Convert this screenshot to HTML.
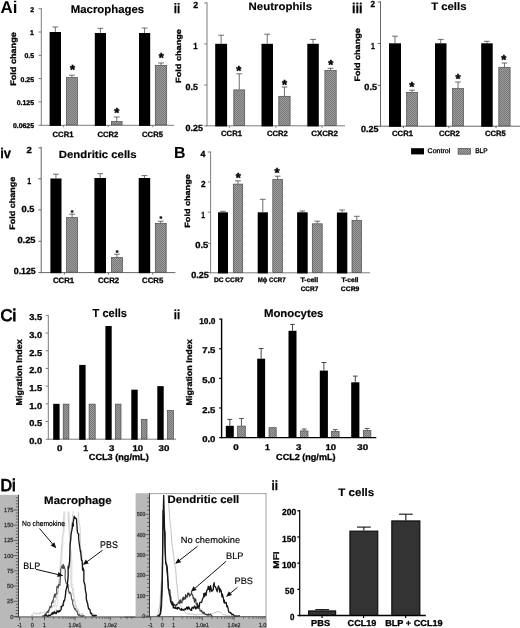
<!DOCTYPE html>
<html lang="en"><head><meta charset="utf-8"><title>Figure</title>
<style>html,body{margin:0;padding:0;background:#fff}svg{display:block;filter:blur(0.4px)}text{font-family:'Liberation Sans', Arial, Helvetica, sans-serif;text-rendering:geometricPrecision}</style></head><body>
<svg width="520" height="628" viewBox="0 0 520 628">
<defs><pattern id="hatch" width="2" height="2" patternUnits="userSpaceOnUse"><rect width="2" height="2" fill="#9c9c9c"/><rect width="1" height="1" fill="#787878"/><rect x="1" y="1" width="1" height="1" fill="#787878"/></pattern></defs>
<rect width="520" height="628" fill="#fff"/>
<text font-size="17.08" font-weight="bold" x="0.6" textLength="16.9" lengthAdjust="spacingAndGlyphs" y="12.5">Ai</text>
<line x1="41.3" y1="8.2" x2="41.3" y2="125.8" stroke="#7d7d7d" stroke-width="1"/>
<line x1="40.8" y1="125.3" x2="174" y2="125.3" stroke="#7d7d7d" stroke-width="1"/>
<rect x="49.6" y="32" width="11.4" height="93.9" fill="#000"/>
<line x1="55.3" y1="32" x2="55.3" y2="27" stroke="#4a4a4a" stroke-width="0.8"/>
<line x1="52.4" y1="27" x2="58.2" y2="27" stroke="#4a4a4a" stroke-width="0.8"/>
<rect x="66.4" y="77.6" width="11" height="47.3" fill="url(#hatch)" stroke="#4c4c4c" stroke-width="0.7"/>
<line x1="71.9" y1="77.3" x2="71.9" y2="75.2" stroke="#4a4a4a" stroke-width="0.8"/>
<line x1="69" y1="75.2" x2="74.8" y2="75.2" stroke="#4a4a4a" stroke-width="0.8"/>
<text x="72.5" y="74.4" font-size="13" font-weight="bold" text-anchor="middle" stroke="#000" stroke-width="0.46">*</text>
<rect x="94.8" y="33" width="11.2" height="92.9" fill="#000"/>
<line x1="100.4" y1="33" x2="100.4" y2="28.3" stroke="#4a4a4a" stroke-width="0.8"/>
<line x1="97.5" y1="28.3" x2="103.3" y2="28.3" stroke="#4a4a4a" stroke-width="0.8"/>
<rect x="111.4" y="121.6" width="10.7" height="3.3" fill="url(#hatch)" stroke="#4c4c4c" stroke-width="0.7"/>
<line x1="116.75" y1="121.3" x2="116.75" y2="117" stroke="#4a4a4a" stroke-width="0.8"/>
<line x1="113.85" y1="117" x2="119.65" y2="117" stroke="#4a4a4a" stroke-width="0.8"/>
<text x="116.7" y="117.19" font-size="13" font-weight="bold" text-anchor="middle" stroke="#000" stroke-width="0.46">*</text>
<rect x="139" y="33" width="11.2" height="92.9" fill="#000"/>
<line x1="144.6" y1="33" x2="144.6" y2="28" stroke="#4a4a4a" stroke-width="0.8"/>
<line x1="141.7" y1="28" x2="147.5" y2="28" stroke="#4a4a4a" stroke-width="0.8"/>
<rect x="155.3" y="65.3" width="11.4" height="59.6" fill="url(#hatch)" stroke="#4c4c4c" stroke-width="0.7"/>
<line x1="161" y1="65" x2="161" y2="63" stroke="#4a4a4a" stroke-width="0.8"/>
<line x1="158.1" y1="63" x2="163.9" y2="63" stroke="#4a4a4a" stroke-width="0.8"/>
<text x="161.3" y="61.99" font-size="13" font-weight="bold" text-anchor="middle" stroke="#000" stroke-width="0.46">*</text>
<line x1="38.5" y1="8.7" x2="41.3" y2="8.7" stroke="#7d7d7d" stroke-width="1"/>
<text font-size="6.9" font-weight="bold" x="34" text-anchor="end" y="11.7" stroke="#000" stroke-width="0.3">2</text>
<line x1="38.5" y1="32" x2="41.3" y2="32" stroke="#7d7d7d" stroke-width="1"/>
<text font-size="6.9" font-weight="bold" x="33.8" text-anchor="end" y="35.1" stroke="#000" stroke-width="0.3">1</text>
<line x1="38.5" y1="55.3" x2="41.3" y2="55.3" stroke="#7d7d7d" stroke-width="1"/>
<text font-size="6.9" font-weight="bold" x="34" text-anchor="end" y="58.3" stroke="#000" stroke-width="0.3">0.5</text>
<line x1="38.5" y1="78.6" x2="41.3" y2="78.6" stroke="#7d7d7d" stroke-width="1"/>
<text font-size="6.9" font-weight="bold" x="34" text-anchor="end" y="81.6" stroke="#000" stroke-width="0.3">0.25</text>
<line x1="38.5" y1="101.9" x2="41.3" y2="101.9" stroke="#7d7d7d" stroke-width="1"/>
<text font-size="6.9" font-weight="bold" x="34" text-anchor="end" y="104.8" stroke="#000" stroke-width="0.3">0.125</text>
<line x1="38.5" y1="125.2" x2="41.3" y2="125.2" stroke="#7d7d7d" stroke-width="1"/>
<text font-size="6.9" font-weight="bold" x="34" text-anchor="end" y="127.9" stroke="#000" stroke-width="0.3">0.0625</text>
<line x1="63.4" y1="125.3" x2="63.4" y2="127.2" stroke="#7d7d7d" stroke-width="1"/>
<line x1="108.3" y1="125.3" x2="108.3" y2="127.2" stroke="#7d7d7d" stroke-width="1"/>
<line x1="152.7" y1="125.3" x2="152.7" y2="127.2" stroke="#7d7d7d" stroke-width="1"/>
<text font-size="7.63" font-weight="bold" x="52.6" textLength="20.8" lengthAdjust="spacingAndGlyphs" y="136.6" stroke="#000" stroke-width="0.3">CCR1</text>
<text font-size="7.63" font-weight="bold" x="97.4" textLength="20.8" lengthAdjust="spacingAndGlyphs" y="136.6" stroke="#000" stroke-width="0.3">CCR2</text>
<text font-size="7.63" font-weight="bold" x="142.1" textLength="20.8" lengthAdjust="spacingAndGlyphs" y="136.6" stroke="#000" stroke-width="0.3">CCR5</text>
<text transform="translate(12.8 59) rotate(-90)" x="0" y="2.75" font-size="8.07" text-anchor="middle" textLength="53.5" lengthAdjust="spacingAndGlyphs" font-weight="bold" stroke="#000" stroke-width="0.3">Fold change</text>
<text font-size="11.26" font-weight="bold" x="70.8" textLength="73.4" lengthAdjust="spacingAndGlyphs" y="13" stroke="#000" stroke-width="0.15">Macrophages</text>
<text font-size="13.72" font-weight="bold" x="173.8" textLength="6.4" lengthAdjust="spacingAndGlyphs" y="12.7" stroke="#000" stroke-width="0.25">ii</text>
<line x1="207" y1="2.4" x2="207" y2="126.3" stroke="#7d7d7d" stroke-width="1"/>
<line x1="206.5" y1="125.8" x2="345" y2="125.8" stroke="#7d7d7d" stroke-width="1"/>
<rect x="215.2" y="43.8" width="11.9" height="82.6" fill="#000"/>
<line x1="221.15" y1="43.8" x2="221.15" y2="35.2" stroke="#4a4a4a" stroke-width="0.8"/>
<line x1="218.25" y1="35.2" x2="224.05" y2="35.2" stroke="#4a4a4a" stroke-width="0.8"/>
<rect x="233.8" y="89.9" width="10.9" height="35.5" fill="url(#hatch)" stroke="#4c4c4c" stroke-width="0.7"/>
<line x1="239.25" y1="89.6" x2="239.25" y2="73.8" stroke="#4a4a4a" stroke-width="0.8"/>
<line x1="236.35" y1="73.8" x2="242.15" y2="73.8" stroke="#4a4a4a" stroke-width="0.8"/>
<text x="238.8" y="75" font-size="13" font-weight="bold" text-anchor="middle" stroke="#000" stroke-width="0.46">*</text>
<rect x="261.5" y="43.8" width="11.5" height="82.6" fill="#000"/>
<line x1="267.25" y1="43.8" x2="267.25" y2="34.2" stroke="#4a4a4a" stroke-width="0.8"/>
<line x1="264.35" y1="34.2" x2="270.15" y2="34.2" stroke="#4a4a4a" stroke-width="0.8"/>
<rect x="278.8" y="96.3" width="11.3" height="29.1" fill="url(#hatch)" stroke="#4c4c4c" stroke-width="0.7"/>
<line x1="284.45" y1="96" x2="284.45" y2="87" stroke="#4a4a4a" stroke-width="0.8"/>
<line x1="281.55" y1="87" x2="287.35" y2="87" stroke="#4a4a4a" stroke-width="0.8"/>
<text x="284.6" y="89.19" font-size="13" font-weight="bold" text-anchor="middle" stroke="#000" stroke-width="0.46">*</text>
<rect x="307.3" y="43.8" width="11.5" height="82.6" fill="#000"/>
<line x1="313.05" y1="43.8" x2="313.05" y2="39.4" stroke="#4a4a4a" stroke-width="0.8"/>
<line x1="310.15" y1="39.4" x2="315.95" y2="39.4" stroke="#4a4a4a" stroke-width="0.8"/>
<rect x="324.9" y="70.5" width="11.3" height="54.9" fill="url(#hatch)" stroke="#4c4c4c" stroke-width="0.7"/>
<line x1="330.55" y1="70.2" x2="330.55" y2="68.3" stroke="#4a4a4a" stroke-width="0.8"/>
<line x1="327.65" y1="68.3" x2="333.45" y2="68.3" stroke="#4a4a4a" stroke-width="0.8"/>
<text x="330.8" y="69.19" font-size="13" font-weight="bold" text-anchor="middle" stroke="#000" stroke-width="0.46">*</text>
<line x1="204.2" y1="2.9" x2="207" y2="2.9" stroke="#7d7d7d" stroke-width="1"/>
<text font-size="8.89" font-weight="bold" x="193.2" textLength="4.9" lengthAdjust="spacingAndGlyphs" y="8.25" stroke="#000" stroke-width="0.3">2</text>
<line x1="204.2" y1="43.9" x2="207" y2="43.9" stroke="#7d7d7d" stroke-width="1"/>
<text font-size="8.89" font-weight="bold" x="193.2" textLength="4.3" lengthAdjust="spacingAndGlyphs" y="49.2" stroke="#000" stroke-width="0.3">1</text>
<line x1="204.2" y1="85" x2="207" y2="85" stroke="#7d7d7d" stroke-width="1"/>
<text font-size="8.89" font-weight="bold" x="185.5" textLength="12.4" lengthAdjust="spacingAndGlyphs" y="89.8" stroke="#000" stroke-width="0.3">0.5</text>
<line x1="204.2" y1="125.8" x2="207" y2="125.8" stroke="#7d7d7d" stroke-width="1"/>
<text font-size="8.89" font-weight="bold" x="185.5" textLength="17.4" lengthAdjust="spacingAndGlyphs" y="130.7" stroke="#000" stroke-width="0.3">0.25</text>
<line x1="229.6" y1="125.8" x2="229.6" y2="127.7" stroke="#7d7d7d" stroke-width="1"/>
<line x1="276" y1="125.8" x2="276" y2="127.7" stroke="#7d7d7d" stroke-width="1"/>
<line x1="322" y1="125.8" x2="322" y2="127.7" stroke="#7d7d7d" stroke-width="1"/>
<text font-size="7.63" font-weight="bold" x="221.1" textLength="20.8" lengthAdjust="spacingAndGlyphs" y="136.3" stroke="#000" stroke-width="0.3">CCR1</text>
<text font-size="7.63" font-weight="bold" x="266.9" textLength="20.8" lengthAdjust="spacingAndGlyphs" y="136.3" stroke="#000" stroke-width="0.3">CCR2</text>
<text font-size="7.63" font-weight="bold" x="311.2" textLength="26.8" lengthAdjust="spacingAndGlyphs" y="136.3" stroke="#000" stroke-width="0.3">CXCR2</text>
<text transform="translate(178.4 56) rotate(-90)" x="0" y="2.55" font-size="7.52" text-anchor="middle" textLength="53.8" lengthAdjust="spacingAndGlyphs" font-weight="bold" stroke="#000" stroke-width="0.3">Fold change</text>
<text font-size="10.83" font-weight="bold" x="248.6" textLength="63.5" lengthAdjust="spacingAndGlyphs" y="10" stroke="#000" stroke-width="0.15">Neutrophils</text>
<text font-size="14" font-weight="bold" x="352" textLength="10.6" lengthAdjust="spacingAndGlyphs" y="12.8" stroke="#000" stroke-width="0.25">iii</text>
<line x1="380.5" y1="1.3" x2="380.5" y2="126.7" stroke="#666" stroke-width="1"/>
<line x1="380" y1="126.2" x2="520" y2="126.2" stroke="#666" stroke-width="1"/>
<rect x="389" y="43.3" width="12" height="83.5" fill="#000"/>
<line x1="395" y1="43.3" x2="395" y2="36.2" stroke="#4a4a4a" stroke-width="0.8"/>
<line x1="392.1" y1="36.2" x2="397.9" y2="36.2" stroke="#4a4a4a" stroke-width="0.8"/>
<rect x="406.6" y="92.4" width="11" height="33.4" fill="url(#hatch)" stroke="#4c4c4c" stroke-width="0.7"/>
<line x1="412.1" y1="92.1" x2="412.1" y2="90.2" stroke="#4a4a4a" stroke-width="0.8"/>
<line x1="409.2" y1="90.2" x2="415" y2="90.2" stroke="#4a4a4a" stroke-width="0.8"/>
<text x="411.7" y="90.5" font-size="13" font-weight="bold" text-anchor="middle" stroke="#000" stroke-width="0.46">*</text>
<rect x="435" y="43.3" width="11.5" height="83.5" fill="#000"/>
<line x1="440.75" y1="43.3" x2="440.75" y2="39.4" stroke="#4a4a4a" stroke-width="0.8"/>
<line x1="437.85" y1="39.4" x2="443.65" y2="39.4" stroke="#4a4a4a" stroke-width="0.8"/>
<rect x="452.6" y="88.6" width="10.9" height="37.2" fill="url(#hatch)" stroke="#4c4c4c" stroke-width="0.7"/>
<line x1="458.05" y1="88.3" x2="458.05" y2="82" stroke="#4a4a4a" stroke-width="0.8"/>
<line x1="455.15" y1="82" x2="460.95" y2="82" stroke="#4a4a4a" stroke-width="0.8"/>
<text x="458" y="83.4" font-size="13" font-weight="bold" text-anchor="middle" stroke="#000" stroke-width="0.46">*</text>
<rect x="481.2" y="43.3" width="11.5" height="83.5" fill="#000"/>
<line x1="486.95" y1="43.3" x2="486.95" y2="41.3" stroke="#4a4a4a" stroke-width="0.8"/>
<line x1="484.05" y1="41.3" x2="489.85" y2="41.3" stroke="#4a4a4a" stroke-width="0.8"/>
<rect x="498.8" y="67.3" width="11.3" height="58.5" fill="url(#hatch)" stroke="#4c4c4c" stroke-width="0.7"/>
<line x1="504.45" y1="67" x2="504.45" y2="63" stroke="#4a4a4a" stroke-width="0.8"/>
<line x1="501.55" y1="63" x2="507.35" y2="63" stroke="#4a4a4a" stroke-width="0.8"/>
<text x="503.7" y="64.4" font-size="13" font-weight="bold" text-anchor="middle" stroke="#000" stroke-width="0.46">*</text>
<line x1="377.7" y1="2" x2="380.5" y2="2" stroke="#666" stroke-width="1"/>
<text font-size="8.89" font-weight="bold" x="370.5" textLength="4.6" lengthAdjust="spacingAndGlyphs" y="7.4" stroke="#000" stroke-width="0.3">2</text>
<line x1="377.7" y1="43.5" x2="380.5" y2="43.5" stroke="#666" stroke-width="1"/>
<text font-size="8.89" font-weight="bold" x="371.1" textLength="3.8" lengthAdjust="spacingAndGlyphs" y="49.1" stroke="#000" stroke-width="0.3">1</text>
<line x1="377.7" y1="85.4" x2="380.5" y2="85.4" stroke="#666" stroke-width="1"/>
<text font-size="8.89" font-weight="bold" x="364.3" textLength="12.7" lengthAdjust="spacingAndGlyphs" y="90.3" stroke="#000" stroke-width="0.3">0.5</text>
<line x1="377.7" y1="126.2" x2="380.5" y2="126.2" stroke="#666" stroke-width="1"/>
<text font-size="8.89" font-weight="bold" x="361.1" textLength="17.4" lengthAdjust="spacingAndGlyphs" y="132" stroke="#000" stroke-width="0.3">0.25</text>
<line x1="403.5" y1="126.2" x2="403.5" y2="128.1" stroke="#666" stroke-width="1"/>
<line x1="448.8" y1="126.2" x2="448.8" y2="128.1" stroke="#666" stroke-width="1"/>
<line x1="496" y1="126.2" x2="496" y2="128.1" stroke="#666" stroke-width="1"/>
<text font-size="7.63" font-weight="bold" x="392.1" textLength="20.8" lengthAdjust="spacingAndGlyphs" y="136.3" stroke="#000" stroke-width="0.3">CCR1</text>
<text font-size="7.63" font-weight="bold" x="439" textLength="20.8" lengthAdjust="spacingAndGlyphs" y="136.3" stroke="#000" stroke-width="0.3">CCR2</text>
<text font-size="7.63" font-weight="bold" x="485" textLength="20.8" lengthAdjust="spacingAndGlyphs" y="136.3" stroke="#000" stroke-width="0.3">CCR5</text>
<text transform="translate(357.4 54.9) rotate(-90)" x="0" y="2.65" font-size="7.79" text-anchor="middle" textLength="53.2" lengthAdjust="spacingAndGlyphs" font-weight="bold" stroke="#000" stroke-width="0.3">Fold change</text>
<text font-size="10.83" font-weight="bold" x="431.2" textLength="35.3" lengthAdjust="spacingAndGlyphs" y="10" stroke="#000" stroke-width="0.15">T cells</text>
<rect x="411.1" y="148.2" width="12.9" height="6.2" fill="#000"/>
<text font-size="6.76" x="427.6" textLength="22.6" lengthAdjust="spacingAndGlyphs" y="153.2" stroke="#000" stroke-width="0.3">Control</text>
<rect x="458.1" y="148.5" width="12.4" height="5.7" fill="url(#hatch)" stroke="#4c4c4c" stroke-width="0.7"/>
<text font-size="6.76" x="475.2" textLength="12.4" lengthAdjust="spacingAndGlyphs" y="153.2" stroke="#000" stroke-width="0.3">BLP</text>
<text font-size="14" font-weight="bold" x="0.2" textLength="10.8" lengthAdjust="spacingAndGlyphs" y="157.6" stroke="#000" stroke-width="0.25">iv</text>
<line x1="41.2" y1="146.8" x2="41.2" y2="273.1" stroke="#686868" stroke-width="1"/>
<line x1="40.7" y1="272.6" x2="175.4" y2="272.6" stroke="#686868" stroke-width="1"/>
<rect x="50.4" y="178.5" width="11.1" height="94.7" fill="#000"/>
<line x1="55.95" y1="178.5" x2="55.95" y2="174.2" stroke="#4a4a4a" stroke-width="0.8"/>
<line x1="53.05" y1="174.2" x2="58.85" y2="174.2" stroke="#4a4a4a" stroke-width="0.8"/>
<rect x="66.6" y="217.6" width="11" height="54.6" fill="url(#hatch)" stroke="#4c4c4c" stroke-width="0.7"/>
<line x1="72.1" y1="217.3" x2="72.1" y2="214.2" stroke="#4a4a4a" stroke-width="0.8"/>
<line x1="69.2" y1="214.2" x2="75" y2="214.2" stroke="#4a4a4a" stroke-width="0.8"/>
<text x="72" y="214.7" font-size="7" font-weight="bold" text-anchor="middle" stroke="#000" stroke-width="0.25">*</text>
<rect x="94.4" y="178" width="11.6" height="95.2" fill="#000"/>
<line x1="100.2" y1="178" x2="100.2" y2="173.7" stroke="#4a4a4a" stroke-width="0.8"/>
<line x1="97.3" y1="173.7" x2="103.1" y2="173.7" stroke="#4a4a4a" stroke-width="0.8"/>
<rect x="111.5" y="257.4" width="10.9" height="14.8" fill="url(#hatch)" stroke="#4c4c4c" stroke-width="0.7"/>
<line x1="116.95" y1="257.1" x2="116.95" y2="254.2" stroke="#4a4a4a" stroke-width="0.8"/>
<line x1="114.05" y1="254.2" x2="119.85" y2="254.2" stroke="#4a4a4a" stroke-width="0.8"/>
<text x="117" y="254.6" font-size="7" font-weight="bold" text-anchor="middle" stroke="#000" stroke-width="0.25">*</text>
<rect x="138.7" y="178" width="11.5" height="95.2" fill="#000"/>
<line x1="144.45" y1="178" x2="144.45" y2="175.6" stroke="#4a4a4a" stroke-width="0.8"/>
<line x1="141.55" y1="175.6" x2="147.35" y2="175.6" stroke="#4a4a4a" stroke-width="0.8"/>
<rect x="155.3" y="223.3" width="10.9" height="48.9" fill="url(#hatch)" stroke="#4c4c4c" stroke-width="0.7"/>
<line x1="160.75" y1="223" x2="160.75" y2="221.2" stroke="#4a4a4a" stroke-width="0.8"/>
<line x1="157.85" y1="221.2" x2="163.65" y2="221.2" stroke="#4a4a4a" stroke-width="0.8"/>
<text x="160.8" y="221" font-size="7" font-weight="bold" text-anchor="middle" stroke="#000" stroke-width="0.25">*</text>
<line x1="38.4" y1="147.8" x2="41.2" y2="147.8" stroke="#686868" stroke-width="1"/>
<text font-size="8.89" font-weight="bold" x="26.6" textLength="5.3" lengthAdjust="spacingAndGlyphs" y="152.8" stroke="#000" stroke-width="0.3">2</text>
<line x1="38.4" y1="178.8" x2="41.2" y2="178.8" stroke="#686868" stroke-width="1"/>
<text font-size="8.89" font-weight="bold" x="27.3" textLength="3.9" lengthAdjust="spacingAndGlyphs" y="183.9" stroke="#000" stroke-width="0.3">1</text>
<line x1="38.4" y1="209.9" x2="41.2" y2="209.9" stroke="#686868" stroke-width="1"/>
<text font-size="8.89" font-weight="bold" x="21.6" textLength="12.9" lengthAdjust="spacingAndGlyphs" y="211.5" stroke="#000" stroke-width="0.3">0.5</text>
<line x1="38.4" y1="241.3" x2="41.2" y2="241.3" stroke="#686868" stroke-width="1"/>
<text font-size="8.89" font-weight="bold" x="17.4" textLength="18.1" lengthAdjust="spacingAndGlyphs" y="243.2" stroke="#000" stroke-width="0.3">0.25</text>
<line x1="38.4" y1="272.6" x2="41.2" y2="272.6" stroke="#686868" stroke-width="1"/>
<text font-size="8.89" font-weight="bold" x="13.8" textLength="21.9" lengthAdjust="spacingAndGlyphs" y="274.3" stroke="#000" stroke-width="0.3">0.125</text>
<line x1="64.4" y1="272.6" x2="64.4" y2="274.5" stroke="#686868" stroke-width="1"/>
<line x1="108.5" y1="272.6" x2="108.5" y2="274.5" stroke="#686868" stroke-width="1"/>
<line x1="152.7" y1="272.6" x2="152.7" y2="274.5" stroke="#686868" stroke-width="1"/>
<text font-size="7.78" font-weight="bold" x="52.9" textLength="21.2" lengthAdjust="spacingAndGlyphs" y="283.2" stroke="#000" stroke-width="0.3">CCR1</text>
<text font-size="7.78" font-weight="bold" x="97.9" textLength="21.2" lengthAdjust="spacingAndGlyphs" y="283.2" stroke="#000" stroke-width="0.3">CCR2</text>
<text font-size="7.78" font-weight="bold" x="142.1" textLength="21.2" lengthAdjust="spacingAndGlyphs" y="283.2" stroke="#000" stroke-width="0.3">CCR5</text>
<text transform="translate(12.55 203.2) rotate(-90)" x="0" y="2.7" font-size="7.93" text-anchor="middle" textLength="53" lengthAdjust="spacingAndGlyphs" font-weight="bold" stroke="#000" stroke-width="0.3">Fold change</text>
<text font-size="10.54" font-weight="bold" x="58.8" textLength="77.8" lengthAdjust="spacingAndGlyphs" y="158.2" stroke="#000" stroke-width="0.15">Dendritic cells</text>
<text font-size="15.92" font-weight="bold" x="174" textLength="11.5" lengthAdjust="spacingAndGlyphs" y="158.4">B</text>
<line x1="210.6" y1="151.5" x2="210.6" y2="273.3" stroke="#7d7d7d" stroke-width="1"/>
<line x1="210.1" y1="272.8" x2="370" y2="272.8" stroke="#7d7d7d" stroke-width="1"/>
<rect x="218" y="212.3" width="10" height="61.1" fill="#000"/>
<line x1="223" y1="212.3" x2="223" y2="211.3" stroke="#4a4a4a" stroke-width="0.8"/>
<line x1="220.1" y1="211.3" x2="225.9" y2="211.3" stroke="#4a4a4a" stroke-width="0.8"/>
<rect x="233.3" y="184.1" width="9.4" height="88.3" fill="url(#hatch)" stroke="#4c4c4c" stroke-width="0.7"/>
<line x1="238" y1="183.8" x2="238" y2="180.8" stroke="#4a4a4a" stroke-width="0.8"/>
<line x1="235.1" y1="180.8" x2="240.9" y2="180.8" stroke="#4a4a4a" stroke-width="0.8"/>
<text x="238.3" y="181.69" font-size="13" font-weight="bold" text-anchor="middle" stroke="#000" stroke-width="0.46">*</text>
<rect x="257.7" y="212.3" width="10.2" height="61.1" fill="#000"/>
<line x1="262.8" y1="212.3" x2="262.8" y2="199.3" stroke="#4a4a4a" stroke-width="0.8"/>
<line x1="259.9" y1="199.3" x2="265.7" y2="199.3" stroke="#4a4a4a" stroke-width="0.8"/>
<rect x="272.8" y="179.3" width="9.6" height="93.1" fill="url(#hatch)" stroke="#4c4c4c" stroke-width="0.7"/>
<line x1="277.6" y1="179" x2="277.6" y2="176.2" stroke="#4a4a4a" stroke-width="0.8"/>
<line x1="274.7" y1="176.2" x2="280.5" y2="176.2" stroke="#4a4a4a" stroke-width="0.8"/>
<text x="277" y="176.5" font-size="13" font-weight="bold" text-anchor="middle" stroke="#000" stroke-width="0.46">*</text>
<rect x="297.1" y="212.3" width="10.6" height="61.1" fill="#000"/>
<line x1="302.4" y1="212.3" x2="302.4" y2="211" stroke="#4a4a4a" stroke-width="0.8"/>
<line x1="299.5" y1="211" x2="305.3" y2="211" stroke="#4a4a4a" stroke-width="0.8"/>
<rect x="312.3" y="223.8" width="9.9" height="48.6" fill="url(#hatch)" stroke="#4c4c4c" stroke-width="0.7"/>
<line x1="317.25" y1="223.5" x2="317.25" y2="221.2" stroke="#4a4a4a" stroke-width="0.8"/>
<line x1="314.35" y1="221.2" x2="320.15" y2="221.2" stroke="#4a4a4a" stroke-width="0.8"/>
<rect x="336.9" y="212.5" width="10.4" height="60.9" fill="#000"/>
<line x1="342.1" y1="212.5" x2="342.1" y2="210" stroke="#4a4a4a" stroke-width="0.8"/>
<line x1="339.2" y1="210" x2="345" y2="210" stroke="#4a4a4a" stroke-width="0.8"/>
<rect x="352" y="220.5" width="9.6" height="51.9" fill="url(#hatch)" stroke="#4c4c4c" stroke-width="0.7"/>
<line x1="356.8" y1="220.2" x2="356.8" y2="216.3" stroke="#4a4a4a" stroke-width="0.8"/>
<line x1="353.9" y1="216.3" x2="359.7" y2="216.3" stroke="#4a4a4a" stroke-width="0.8"/>
<line x1="207.8" y1="152" x2="210.6" y2="152" stroke="#7d7d7d" stroke-width="1"/>
<text font-size="8.89" font-weight="bold" x="200.6" textLength="4.9" lengthAdjust="spacingAndGlyphs" y="157" stroke="#000" stroke-width="0.3">4</text>
<line x1="207.8" y1="182" x2="210.6" y2="182" stroke="#7d7d7d" stroke-width="1"/>
<text font-size="8.89" font-weight="bold" x="200.9" textLength="4.6" lengthAdjust="spacingAndGlyphs" y="187.3" stroke="#000" stroke-width="0.3">2</text>
<line x1="207.8" y1="212.2" x2="210.6" y2="212.2" stroke="#7d7d7d" stroke-width="1"/>
<text font-size="8.89" font-weight="bold" x="201.3" textLength="3.7" lengthAdjust="spacingAndGlyphs" y="217.8" stroke="#000" stroke-width="0.3">1</text>
<line x1="207.8" y1="243.4" x2="210.6" y2="243.4" stroke="#7d7d7d" stroke-width="1"/>
<text font-size="8.89" font-weight="bold" x="195.2" textLength="13.1" lengthAdjust="spacingAndGlyphs" y="248.1" stroke="#000" stroke-width="0.3">0.5</text>
<line x1="207.8" y1="272.6" x2="210.6" y2="272.6" stroke="#7d7d7d" stroke-width="1"/>
<text font-size="8.89" font-weight="bold" x="191.3" textLength="17.6" lengthAdjust="spacingAndGlyphs" y="278.2" stroke="#000" stroke-width="0.3">0.25</text>
<text transform="translate(187 201) rotate(-90)" x="0" y="2.55" font-size="7.52" text-anchor="middle" textLength="53.4" lengthAdjust="spacingAndGlyphs" font-weight="bold" stroke="#000" stroke-width="0.3">Fold change</text>
<text font-size="6.61" font-weight="bold" x="213.9" textLength="29.5" lengthAdjust="spacingAndGlyphs" y="281.8" stroke="#000" stroke-width="0.3">DC CCR7</text>
<text font-size="6.61" font-weight="bold" x="257.8" textLength="27.7" lengthAdjust="spacingAndGlyphs" y="281.8" stroke="#000" stroke-width="0.3">Mϕ CCR7</text>
<text font-size="6.61" font-weight="bold" x="300.5" textLength="17.7" lengthAdjust="spacingAndGlyphs" y="281.8" stroke="#000" stroke-width="0.3">T-cell</text>
<text font-size="6.61" font-weight="bold" x="300.7" textLength="17.6" lengthAdjust="spacingAndGlyphs" y="290.8" stroke="#000" stroke-width="0.3">CCR7</text>
<text font-size="6.61" font-weight="bold" x="341.4" textLength="17.1" lengthAdjust="spacingAndGlyphs" y="282" stroke="#000" stroke-width="0.3">T-cell</text>
<text font-size="6.61" font-weight="bold" x="340.8" textLength="18.6" lengthAdjust="spacingAndGlyphs" y="291" stroke="#000" stroke-width="0.3">CCR9</text>
<text font-size="16.93" x="0.5" textLength="15.8" lengthAdjust="spacingAndGlyphs" y="320.8" stroke="#000" stroke-width="0.85">Ci</text>
<line x1="48.3" y1="315" x2="48.3" y2="439.7" stroke="#7d7d7d" stroke-width="1"/>
<line x1="47.8" y1="439.2" x2="176" y2="439.2" stroke="#7d7d7d" stroke-width="1"/>
<rect x="53.2" y="403.83" width="6.4" height="35.97" fill="#000"/>
<rect x="63.2" y="404.13" width="5.7" height="34.87" fill="url(#hatch)" stroke="#4c4c4c" stroke-width="0.7"/>
<rect x="79.2" y="364.92" width="6.4" height="74.88" fill="#000"/>
<rect x="89.1" y="404.13" width="6.1" height="34.87" fill="url(#hatch)" stroke="#4c4c4c" stroke-width="0.7"/>
<rect x="105.4" y="326.02" width="6.3" height="113.78" fill="#000"/>
<rect x="115.3" y="404.13" width="5.7" height="34.87" fill="url(#hatch)" stroke="#4c4c4c" stroke-width="0.7"/>
<rect x="131.3" y="389.68" width="6.4" height="50.12" fill="#000"/>
<rect x="141.3" y="419.34" width="5.7" height="19.66" fill="url(#hatch)" stroke="#4c4c4c" stroke-width="0.7"/>
<rect x="157.3" y="386.14" width="6.4" height="53.66" fill="#000"/>
<rect x="167.3" y="410.5" width="6.1" height="28.5" fill="url(#hatch)" stroke="#4c4c4c" stroke-width="0.7"/>
<line x1="45.6" y1="439.2" x2="48.3" y2="439.2" stroke="#7d7d7d" stroke-width="1"/>
<text font-size="8.61" font-weight="bold" x="29.2" textLength="12.9" lengthAdjust="spacingAndGlyphs" y="443.95" stroke="#000" stroke-width="0.3">0.0</text>
<line x1="45.6" y1="421.51" x2="48.3" y2="421.51" stroke="#7d7d7d" stroke-width="1"/>
<text font-size="8.61" font-weight="bold" x="29.2" textLength="12.9" lengthAdjust="spacingAndGlyphs" y="426.26" stroke="#000" stroke-width="0.3">0.5</text>
<line x1="45.6" y1="403.83" x2="48.3" y2="403.83" stroke="#7d7d7d" stroke-width="1"/>
<text font-size="8.61" font-weight="bold" x="29.2" textLength="12.9" lengthAdjust="spacingAndGlyphs" y="408.58" stroke="#000" stroke-width="0.3">1.0</text>
<line x1="45.6" y1="386.14" x2="48.3" y2="386.14" stroke="#7d7d7d" stroke-width="1"/>
<text font-size="8.61" font-weight="bold" x="29.2" textLength="12.9" lengthAdjust="spacingAndGlyphs" y="390.89" stroke="#000" stroke-width="0.3">1.5</text>
<line x1="45.6" y1="368.46" x2="48.3" y2="368.46" stroke="#7d7d7d" stroke-width="1"/>
<text font-size="8.61" font-weight="bold" x="29.2" textLength="12.9" lengthAdjust="spacingAndGlyphs" y="373.21" stroke="#000" stroke-width="0.3">2.0</text>
<line x1="45.6" y1="350.77" x2="48.3" y2="350.77" stroke="#7d7d7d" stroke-width="1"/>
<text font-size="8.61" font-weight="bold" x="29.2" textLength="12.9" lengthAdjust="spacingAndGlyphs" y="355.52" stroke="#000" stroke-width="0.3">2.5</text>
<line x1="45.6" y1="333.09" x2="48.3" y2="333.09" stroke="#7d7d7d" stroke-width="1"/>
<text font-size="8.61" font-weight="bold" x="29.2" textLength="12.9" lengthAdjust="spacingAndGlyphs" y="337.84" stroke="#000" stroke-width="0.3">3.0</text>
<line x1="45.6" y1="315.4" x2="48.3" y2="315.4" stroke="#7d7d7d" stroke-width="1"/>
<text font-size="8.61" font-weight="bold" x="29.2" textLength="12.9" lengthAdjust="spacingAndGlyphs" y="320.15" stroke="#000" stroke-width="0.3">3.5</text>
<text font-size="8.32" font-weight="bold" x="56.9" textLength="5.4" lengthAdjust="spacingAndGlyphs" y="451.2" stroke="#000" stroke-width="0.3">0</text>
<text font-size="8.32" font-weight="bold" x="83.2" textLength="4.8" lengthAdjust="spacingAndGlyphs" y="451.2" stroke="#000" stroke-width="0.3">1</text>
<text font-size="8.32" font-weight="bold" x="109" textLength="5.4" lengthAdjust="spacingAndGlyphs" y="451.2" stroke="#000" stroke-width="0.3">3</text>
<text font-size="8.32" font-weight="bold" x="132.4" textLength="10.6" lengthAdjust="spacingAndGlyphs" y="451.2" stroke="#000" stroke-width="0.3">10</text>
<text font-size="8.32" font-weight="bold" x="158.6" textLength="10.8" lengthAdjust="spacingAndGlyphs" y="451.2" stroke="#000" stroke-width="0.3">30</text>
<text font-size="8.79" font-weight="bold" x="88.8" textLength="59.9" lengthAdjust="spacingAndGlyphs" y="459.9" stroke="#000" stroke-width="0.3">CCL3 (ng/mL)</text>
<text transform="translate(19.4 372.4) rotate(-90)" x="0" y="2.9" font-size="8.48" text-anchor="middle" textLength="66.3" lengthAdjust="spacingAndGlyphs" font-weight="bold" stroke="#000" stroke-width="0.3">Migration Index</text>
<text font-size="11.56" font-weight="bold" x="92.6" textLength="34.4" lengthAdjust="spacingAndGlyphs" y="317.2" stroke="#000" stroke-width="0.15">T cells</text>
<text font-size="13.03" font-weight="bold" x="173.8" textLength="6.3" lengthAdjust="spacingAndGlyphs" y="318.7" stroke="#000" stroke-width="0.25">ii</text>
<rect x="225.8" y="425.8" width="8" height="11.8" fill="#000"/>
<line x1="229.8" y1="425.8" x2="229.8" y2="419.4" stroke="#333" stroke-width="0.9"/>
<line x1="227.4" y1="419.4" x2="232.2" y2="419.4" stroke="#333" stroke-width="0.9"/>
<rect x="237.6" y="426.1" width="7.7" height="11.5" fill="url(#hatch)" stroke="#4c4c4c" stroke-width="0.7"/>
<line x1="241.45" y1="425.8" x2="241.45" y2="418.5" stroke="#444" stroke-width="0.9"/>
<line x1="239.05" y1="418.5" x2="243.85" y2="418.5" stroke="#444" stroke-width="0.9"/>
<rect x="257.2" y="358.7" width="7.9" height="78.9" fill="#000"/>
<line x1="261.15" y1="358.7" x2="261.15" y2="348.5" stroke="#333" stroke-width="0.9"/>
<line x1="258.75" y1="348.5" x2="263.55" y2="348.5" stroke="#333" stroke-width="0.9"/>
<rect x="269" y="427.7" width="7.2" height="9.9" fill="url(#hatch)" stroke="#4c4c4c" stroke-width="0.7"/>
<rect x="288.5" y="330.8" width="8" height="106.8" fill="#000"/>
<line x1="292.5" y1="330.8" x2="292.5" y2="324.4" stroke="#333" stroke-width="0.9"/>
<line x1="290.1" y1="324.4" x2="294.9" y2="324.4" stroke="#333" stroke-width="0.9"/>
<rect x="300.3" y="430.9" width="7.7" height="6.7" fill="url(#hatch)" stroke="#4c4c4c" stroke-width="0.7"/>
<line x1="304.15" y1="430.6" x2="304.15" y2="429" stroke="#444" stroke-width="0.9"/>
<line x1="301.75" y1="429" x2="306.55" y2="429" stroke="#444" stroke-width="0.9"/>
<rect x="319.8" y="370.6" width="8.1" height="67" fill="#000"/>
<line x1="323.85" y1="370.6" x2="323.85" y2="362.5" stroke="#333" stroke-width="0.9"/>
<line x1="321.45" y1="362.5" x2="326.25" y2="362.5" stroke="#333" stroke-width="0.9"/>
<rect x="331.5" y="431.6" width="7.6" height="6" fill="url(#hatch)" stroke="#4c4c4c" stroke-width="0.7"/>
<line x1="335.3" y1="431.3" x2="335.3" y2="429.6" stroke="#444" stroke-width="0.9"/>
<line x1="332.9" y1="429.6" x2="337.7" y2="429.6" stroke="#444" stroke-width="0.9"/>
<rect x="351.2" y="382.3" width="8.2" height="55.3" fill="#000"/>
<line x1="355.3" y1="382.3" x2="355.3" y2="376.1" stroke="#333" stroke-width="0.9"/>
<line x1="352.9" y1="376.1" x2="357.7" y2="376.1" stroke="#333" stroke-width="0.9"/>
<rect x="363.3" y="430.5" width="7.6" height="7.1" fill="url(#hatch)" stroke="#4c4c4c" stroke-width="0.7"/>
<line x1="367.1" y1="430.2" x2="367.1" y2="428.4" stroke="#444" stroke-width="0.9"/>
<line x1="364.7" y1="428.4" x2="369.5" y2="428.4" stroke="#444" stroke-width="0.9"/>
<line x1="221.6" y1="318.6" x2="221.6" y2="438.3" stroke="#000" stroke-width="1.4"/>
<line x1="221" y1="437.6" x2="376.3" y2="437.6" stroke="#000" stroke-width="1.4"/>
<line x1="219.2" y1="437.6" x2="221.6" y2="437.6" stroke="#000" stroke-width="1.2"/>
<text font-size="8.46" font-weight="bold" x="202.2" textLength="13.2" lengthAdjust="spacingAndGlyphs" y="442.25" stroke="#000" stroke-width="0.3">0.0</text>
<line x1="219.2" y1="407.98" x2="221.6" y2="407.98" stroke="#000" stroke-width="1.2"/>
<text font-size="8.46" font-weight="bold" x="202.2" textLength="13.2" lengthAdjust="spacingAndGlyphs" y="412.62" stroke="#000" stroke-width="0.3">2.5</text>
<line x1="219.2" y1="378.35" x2="221.6" y2="378.35" stroke="#000" stroke-width="1.2"/>
<text font-size="8.46" font-weight="bold" x="202.2" textLength="13.2" lengthAdjust="spacingAndGlyphs" y="383" stroke="#000" stroke-width="0.3">5.0</text>
<line x1="219.2" y1="348.73" x2="221.6" y2="348.73" stroke="#000" stroke-width="1.2"/>
<text font-size="8.46" font-weight="bold" x="202.2" textLength="13.2" lengthAdjust="spacingAndGlyphs" y="353.38" stroke="#000" stroke-width="0.3">7.5</text>
<line x1="219.2" y1="319.1" x2="221.6" y2="319.1" stroke="#000" stroke-width="1.2"/>
<text font-size="8.46" font-weight="bold" x="199.2" textLength="16.2" lengthAdjust="spacingAndGlyphs" y="323.75" stroke="#000" stroke-width="0.3">10.0</text>
<text font-size="8.32" font-weight="bold" x="233.3" textLength="5.4" lengthAdjust="spacingAndGlyphs" y="450.2" stroke="#000" stroke-width="0.3">0</text>
<text font-size="8.32" font-weight="bold" x="264.9" textLength="4.8" lengthAdjust="spacingAndGlyphs" y="450.2" stroke="#000" stroke-width="0.3">1</text>
<text font-size="8.32" font-weight="bold" x="296" textLength="5.4" lengthAdjust="spacingAndGlyphs" y="450.2" stroke="#000" stroke-width="0.3">3</text>
<text font-size="8.32" font-weight="bold" x="325.5" textLength="10.6" lengthAdjust="spacingAndGlyphs" y="450.2" stroke="#000" stroke-width="0.3">10</text>
<text font-size="8.32" font-weight="bold" x="357.3" textLength="10.8" lengthAdjust="spacingAndGlyphs" y="450.2" stroke="#000" stroke-width="0.3">30</text>
<text font-size="8.79" font-weight="bold" x="276.1" textLength="59.4" lengthAdjust="spacingAndGlyphs" y="460.4" stroke="#000" stroke-width="0.3">CCL2 (ng/mL)</text>
<text transform="translate(189 372.4) rotate(-90)" x="0" y="2.85" font-size="8.34" text-anchor="middle" textLength="66.3" lengthAdjust="spacingAndGlyphs" font-weight="bold" stroke="#000" stroke-width="0.3">Migration Index</text>
<text font-size="11.12" font-weight="bold" x="263.9" textLength="59.5" lengthAdjust="spacingAndGlyphs" y="317.2" stroke="#000" stroke-width="0.15">Monocytes</text>
<text font-size="17.08" x="0.4" textLength="15.1" lengthAdjust="spacingAndGlyphs" y="490.5" stroke="#000" stroke-width="0.9">Di</text>
<rect x="0" y="494.8" width="18.3" height="133.2" fill="#b9b9b9"/>
<rect x="0" y="617" width="266.4" height="11" fill="#b9b9b9"/>
<rect x="135.6" y="493.2" width="13.8" height="134.8" fill="#b9b9b9"/>
<line x1="149.4" y1="493.6" x2="266.2" y2="493.6" stroke="#8a8a8a" stroke-width="0.8"/>
<line x1="266" y1="493.2" x2="266" y2="628" stroke="#8a8a8a" stroke-width="0.8"/>
<clipPath id="cm"><rect x="19" y="511.5" width="116" height="106"/></clipPath>
<clipPath id="cd"><rect x="150" y="495" width="115.5" height="122.5"/></clipPath>
<polyline points="31.04,616.4 31.58,616.14 31.65,614.99 32.77,616.08 32.79,615.45 33.48,612.77 33.98,612.11 34.22,612.78 35.29,613.09 35.69,613.61 35.65,613.41 36.57,613.18 36.62,614.55 37.48,613.4 38.3,613.58 38.84,613.34 39.24,614.04 39.85,613.93 39.68,612.38 40.27,614.05 40.95,611.76 41.34,611.96 41.91,612.24 42.57,613.03 43.32,612.6 43.84,612.25 44.39,611.68 44.23,612.19 45.37,611.84 45.56,611.7 45.77,612.34 46.56,611.79 46.65,613.14 47.89,611.48 48.24,613.29 48.22,612.56 49.22,612.53 49.14,610.28 49.64,610.27 50.36,609.12 51.38,607.52 51.9,607.91 51.66,608.29 52.13,606.59 52.93,607.3 53.22,604.97 54.29,606.38 54.87,604.89 54.9,600.75 55.52,601.14 56.08,599.6 56.6,597.34 57.01,592.37 57.68,592.48 57.84,592.33 58.52,584.72 58.61,581.15 59.56,577.75 60.09,577.19 60.15,565.99 60.97,557.62 61.38,549.71 62.19,542.18 62.15,541.29 63.37,528.78 63.47,523.96 63.86,514.76 64.35,510.09 65.08,503.63 65.4,496.66 65.62,484.21 66.69,480.23 66.78,490.94 67.29,494.51 67.95,507.44 68.18,514.1 68.87,527.28 69.45,534.48 69.74,545.41 70.62,562.48 70.96,569.11 71.2,585.28 71.75,588.15 72.77,588.21 72.82,594.61 73.61,593.92 73.88,595.68 74.33,601.95 74.82,601.19 75.43,604.44 75.93,606.16 76.22,605.66 77.35,610.5 77.89,609.02 78.36,610.99 78.28,610.61 79.27,611.9 79.52,612.81 79.87,614.3 80.15,615.1 80.83,614.45 81.14,613.82 82.15,613.57 82.82,613.64 83.06,613.94 83.7,616.4 83.84,616.4" fill="none" stroke="#c6c6c6" stroke-width="0.9" stroke-linejoin="round" clip-path="url(#cm)"/>
<polyline points="51.6,616.29 52.15,615.37 52.9,615.08 53.8,612.34 53.72,611.08 54.28,610.59 54.61,610.89 55.93,610.24 56.31,607.23 56.19,605.62 57.13,606.32 57.85,600.9 57.59,595.26 58.67,592.15 58.68,589.09 59.09,585.63 60.37,577.41 60.3,575.6 61.07,567.17 61.85,559.25 61.91,555.75 62.43,548.63 62.81,546.05 63.04,533.24 64.13,532.44 64.53,524.61 64.84,515.13 65.2,501.58 65.7,497.71 66.28,488.24 67.25,482.44 67.56,484.99 67.6,487.07 68.23,502.22 69.12,505.6 69.33,521.39 69.96,534.99 70.7,548.75 71.45,552.62 71.96,564.29 71.79,583.85 72.78,583.9 73.44,589.69 73.82,591.93 73.69,596.86 74.14,599.4 75.46,602.54 75.01,604.78 75.67,607.36 76.36,606.05 76.6,608.52 77.42,607.86 77.56,611.12 78.17,613.32 78.65,612.37 79.49,614 80.5,614.25 80.53,614.9 80.91,613.95 81.48,613.58 81.91,615.31 82.42,616.4 83.39,616.4" fill="none" stroke="#d6d6d6" stroke-width="0.8" stroke-linejoin="round" clip-path="url(#cm)"/>
<polyline points="46.24,615.85 46.94,615.41 47.42,614.95 47.47,616.29 48.15,614.61 48.11,614.06 48.75,614.73 49.57,614.65 49.72,615.73 50.92,615.34 50.66,613.96 51.14,613.34 51.63,613.46 52.87,614.9 52.72,614.72 53.87,612.6 54.46,613.6 54.68,613.15 55.44,613.77 55.97,612.42 55.8,611.23 56.17,612.13 56.57,612.82 57.6,612.39 58.18,612.95 58.31,611.93 58.98,609.93 59.48,610.68 59.56,609.46 60.02,607.21 61.34,606.53 61.79,608.37 62.08,606.97 62.05,607.36 63.46,606.14 63.76,605.06 64.44,600.59 64.35,599.66 65.28,596.59 65.75,596.41 66.36,589.99 66.95,591.58 66.84,588.42 67.92,579.45 68.42,575.71 68.31,569.07 68.68,564.32 69.15,560.3 70.5,548.3 70.05,545.06 71.03,531.18 71.24,527.96 72.33,520.38 72.42,514.68 73.42,512.12 73.49,508.4 73.63,496.79 74.95,491.43 75.29,487.9 75.43,489.06 76.34,492.74 76.45,495.83 77.35,492.77 77.45,495 78.23,503.37 78.29,511.53 78.65,519.49 79.99,526.92 80.13,528.21 80.34,538.01 80.77,549.94 81.87,551.65 82.29,561.22 82.69,564.56 83.26,569.66 83.7,577.63 83.99,584.08 84.69,585.47 85.45,591.82 85.58,593.64 86.05,600.36 86.67,603.2 87.32,603.83 87.8,604.1 88.14,606.44 88.83,606.61 89.34,609.08 89.69,609.09 90.46,609.91 90.53,612.5 91.34,613.98 91.48,612.65 92.22,613.08 92.17,613.32 93.08,613.48 93.42,613.99 94.27,614.44 94.72,614.74 94.66,616.34 95.65,616.11 96.19,616.4" fill="none" stroke="#cccccc" stroke-width="0.9" stroke-linejoin="round" clip-path="url(#cm)"/>
<polyline points="42.29,615.82 42.29,615.8 43.15,616.4 43.73,615.71 44.24,615.43 44.77,615.44 44.92,614.13 45.66,614.04 46.05,614.74 46.29,613.16 47.17,612.48 47.35,611.24 48.27,612.52 48.45,610 48.73,611.04 49.31,608.79 50.08,606.16 50.64,607.52 51.39,606.51 51.51,602.82 52.18,602.07 52.93,600.15 52.88,602.98 53.32,599.7 53.63,597.8 54.52,594.38 55.15,597.43 55.23,596.21 55.67,593.71 56.83,594 56.56,589.3 57.07,586.11 58.36,587.88 58.33,584.92 58.9,584.48 59.95,585.39 59.93,585.11 60.41,576.17 60.77,569.37 61.85,565.91 62.35,566.85 62.8,568.51 63.02,564.2 63.69,565.48 63.63,568.26 64.29,566.26 65.26,570.96 65.07,578.23 66.08,583.03 66.28,583.15 67.38,583.87 67.42,587.49 68.1,584.31 68.48,589.85 68.68,590.95 69.33,593.28 69.84,592.13 70.92,593.91 70.89,593.86 71.34,597.03 71.99,600.24 72.89,600.01 72.56,603.58 73.1,604.75 74.25,607.95 74.7,609.35 75.39,609.66 75.11,608.46 76.4,611.14 76.43,611.13 77.28,611.3 77.47,612.9 77.88,614.74 78.61,615.32 78.68,614.56 79.14,614.56 80.13,616.07 80.86,615.93 81.18,615.49 81.8,616.4 82.11,616.4 82.87,615.6 82.96,615.4 83.76,615.67 84.4,616.4" fill="none" stroke="#4a4a4a" stroke-width="1.1" stroke-linejoin="round" clip-path="url(#cm)"/>
<polyline points="44.42,616.4 44.68,616.4 44.77,616.4 45.24,615.01 45.96,615.06 46.5,615.39 47.3,615.99 47.26,616.31 47.79,616.4 48.86,615.52 48.65,615.19 49.94,615.29 50.11,615.7 50.64,614.95 51.17,614.72 51.63,614.14 52.07,612.83 52.11,614.29 52.99,612.52 53.9,613.8 54.21,613 54.31,611.77 55.34,612.69 55.74,613.44 56.17,613.64 56.9,611.81 57,610.67 57.19,612.08 58.01,611.18 58.86,612.06 59.18,610.67 59.27,610.91 59.86,611.42 60.43,610.45 61.3,609.29 61.21,606.29 61.7,606.55 62.93,604.92 63.24,605.5 63.06,604.25 63.86,600.7 64.44,600.82 64.92,598.69 65.43,594.98 65.81,589.99 66.13,589.5 67.02,586.53 67.78,580.55 68.19,574.85 68.11,566.13 68.68,568.52 69.57,562.17 69.87,553.33 70.05,544.82 70.74,539.77 71.08,534.16 72.23,528.42 72.57,523.21 73.42,525.99 73.13,522.29 74,518.03 74.19,516.13 75.07,518.56 75.16,517.76 76.2,518.52 76.47,518.53 76.87,524.48 77.23,530.47 77.65,532.99 78.69,534.12 78.57,538.44 79.44,544.97 80.42,551.9 80.5,550.22 80.73,552.68 81.52,560.37 82.13,560.33 82.6,570.19 83.22,568.17 83.93,570.68 83.82,581.24 84.93,584.78 85.4,589.75 85.51,590.63 86.41,595.19 86.32,598.48 86.73,600.52 87.91,604.58 87.83,605.25 88.6,608.97 89.17,608.79 89.71,609.19 90.09,610.46 90.43,612.87 91.03,613.66 91.29,613.14 92.21,615.16 92.43,615.49 93.3,616.18 93.31,616.25 94,615.08 94.85,616 94.88,616.05 95.76,615.28 95.77,615.47 96.59,615.53 96.88,615.61" fill="none" stroke="#151515" stroke-width="1.3" stroke-linejoin="round" clip-path="url(#cm)"/>
<polyline points="155.52,616.2 155.99,615.79 156.53,615.79 157,615.45 157.62,614.06 157.92,613.49 158.62,612.61 158.82,609.81 159.69,607.04 160.05,601.88 160.31,597.45 160.82,589.35 161.4,579.82 161.99,566.51 162.64,544.61 163.06,512.63 163.56,490.04 163.91,490.13 164.7,488.71 165.08,488.71 165.39,490.1 165.83,490.59 166.46,489.47 166.95,488.92 167.64,488.46 167.88,493.37 168.49,501.52 168.96,506.71 169.55,514.8 169.91,519.46 170.43,526.29 171.1,529.76 171.4,536.8 171.82,542.71 172.37,546.38 172.98,551.02 173.59,555.3 174.06,559.03 174.47,562.47 174.91,565.53 175.62,568.71 176.15,575.63 176.46,581.92 177.06,585.67 177.7,591.03 177.9,595.21 178.43,598.33 178.83,602.36 179.53,603.91 180.04,604.89 180.48,605.76 180.99,605.96 181.65,607.34 181.86,609.02 182.63,609.37 182.88,610.5 183.68,610.48 184.18,611.41 184.54,611.15 184.84,611.89 185.69,612.83 186.08,613.15 186.63,613.5 186.92,613.51 187.59,613.93 187.89,614.21 188.64,613.81 188.91,613.68 189.38,613.37 189.91,614.29 190.32,614.15 190.95,614.45 191.35,614.16 192.16,614.35 192.56,613.79 193.03,613.98 193.31,614.67 194.16,615.05 194.69,614.5 195.05,615.09 195.59,614.76 196.2,614.82 196.52,615.09 197.16,614.47 197.58,614.27 198.17,614.15 198.57,614.57 199.15,614.11 199.62,614.47 200.03,614.11 200.45,614.24 201.04,614.32 201.56,614.86 202.15,614.06 202.46,614.09 203.03,614.08 203.64,614.39 204.1,614.85 204.54,615.03 204.89,614.61 205.5,614.22 206.17,614.17 206.3,614.51 207.07,614.54 207.37,614.63 208.06,613.89 208.66,614.13 209.07,614.31 209.47,614.47 210.17,613.85 210.45,613.56 210.93,613.77 211.5,614.15 212.14,613.38 212.68,613.16 212.87,613.45 213.41,613.23 213.97,613.3 214.5,612.74 215.14,612.8 215.48,611.91 215.81,612.54 216.32,611.67 217.03,611.46 217.62,611.72 217.85,612 218.31,611.44 218.89,611.24 219.32,612.24 219.98,612.23 220.56,612.48 221.18,612.61 221.38,613.01 221.87,613.6 222.49,614.5 222.87,614.26 223.44,614.88 224.01,614.86 224.6,614.92 225.12,615.23 225.33,614.85 226.09,614.78 226.48,615.62 227.16,615.44 227.53,615.69 228.12,615.45 228.49,615.42 228.88,615.64 229.63,615.73 230.09,615.86 230.66,616.14 231.19,615.78 231.62,615.94 232.16,616.13 232.44,615.87 232.98,616.2 233.61,616.11 233.81,616.12 234.33,615.93 234.87,615.89 235.62,616.17 235.86,616.2 236.59,616.2 237.08,615.99 237.5,615.87 237.83,615.84" fill="none" stroke="#bcbcbc" stroke-width="0.9" stroke-linejoin="round" clip-path="url(#cd)"/>
<polyline points="157.93,616.2 158.01,615.7 158.7,616.2 159.55,616.06 159.88,614.8 160.43,614.49 160.75,612.59 161.62,606.36 162.06,595.72 162.45,576.52 162.72,542.07 162.91,510.72 164.13,516.26 163.97,527.11 165.16,532.83 165.24,552.37 165.65,561.56 166.03,562.8 166.44,566.51 167.55,576.81 167.74,580.48 168.28,582.96 168.42,588.95 169.67,589.9 169.93,589.9 170.19,595.83 170.94,597.05 171.09,602.29 171.81,602.89 172.3,601.65 173.06,605.88 173.32,604.73 173.74,605.25 174.52,604.5 174.84,605.55 175.46,605.39 175.62,605.91 176.41,604.38 176.77,605.23 177.13,604.54 178.17,602.81 178.66,602.09 179.14,603.35 179.05,602.53 180.13,600.06 180.11,603.14 180.67,599.74 180.91,601.45 181.9,602.93 182.7,597.91 182.42,598.84 183.53,599.83 183.91,596.82 184.32,599.18 184.9,598.1 185.66,598.8 185.53,594.67 186.6,596.85 187.16,597.25 187.46,595.43 187.57,593.19 188.1,595.02 188.96,592.96 189.61,596.3 189.59,595.39 190.68,595.11 190.9,594.38 191.67,592.45 191.73,593.52 192.62,595.48 192.86,595.36 193.19,598.55 193.85,597.72 194.47,602.12 195.04,599.1 195.63,598.95 196.03,601.42 195.98,603.51 196.65,604.82 197.45,603.16 197.9,604.95 198.33,607.58 198.72,606.36 199.23,608.41 199.95,609.32 199.97,610.82 200.96,611.25 201.43,610.58 201.69,610.43 202.29,613.03 202.54,612.77 203.17,612.24 203.66,613.44 203.91,612.07 204.62,613.38 205.25,614.34 206.14,614.73 206.46,614.25 206.77,615.05 207.57,614.34 207.77,615.09 208.57,614.03 208.83,615.28 209.22,614.57 209.93,614.69 210.34,614.19 210.68,614.79 211.16,615.23 211.69,615.7 212.01,616.18 212.84,616.2" fill="none" stroke="#383838" stroke-width="1.15" stroke-linejoin="round" clip-path="url(#cd)"/>
<polyline points="157.65,616.2 158.28,615.76 158.28,616.18 158.78,616.2 159.2,614.76 159.77,614.54 160.45,612.39 161.09,604.12 161.32,598.11 162.3,578.93 162.74,545.5 163.2,518.02 163.74,495.49 164.28,519.23 164.7,533.55 164.94,546.68 165.44,556.12 165.69,563.3 166.74,564.82 167.15,566.88 167.7,575.35 168.14,585.12 168.24,587.55 169.02,591.89 169.47,594.77 169.92,595.47 170.49,600.5 170.79,601.75 171.39,603.16 172.12,604.99 172.41,602.45 173.35,603.82 173.21,607.96 174.27,607.31 174.23,607.8 175.29,608.4 175.74,606.78 176.28,608.59 176.67,608.4 177.38,609.09 177.68,607.46 178.09,608.3 178.57,607.38 179.18,608.02 179.34,608.38 180.15,609.23 180.28,609.76 181.11,610.17 181.53,608.67 181.95,610.13 182.17,609.35 183.4,610.23 183.34,610 184.08,609.33 184.48,609.73 185.27,608.73 185.37,609.66 186.38,608.06 186.48,607.68 186.84,607.13 187.5,609.36 188.19,606.99 188.65,608.7 188.81,607.24 189.38,607.83 189.83,609.3 190.38,609.74 190.92,610.39 191.71,610.36 191.6,608.48 192.25,607.23 193.04,607.83 193.33,608.47 193.71,608.23 194.19,606.49 194.77,605.97 195.41,607.59 195.7,608.98 196.45,608.05 197.39,605.69 197.53,607.93 198.24,608.09 198.81,607.18 198.7,605.81 199.3,606.77 199.72,602.67 200.4,602.44 201.24,602.33 201.67,602.31 202.35,599.32 202.84,598.47 203.06,597.96 203.77,596.27 203.69,593.53 204.53,596.67 205.03,592.92 205.87,594.43 205.67,594.37 206.12,595.47 206.69,590.68 207.79,589.04 208.25,586.28 208.6,589.23 209.17,586.92 209.71,589.86 209.85,591.83 210.48,585.6 211.23,588.87 211.1,588.37 211.81,591.34 212.85,589.85 213.28,589.96 213.43,585.27 214.21,582.68 214.31,585.71 215.32,586.97 215.26,586.86 215.98,588.15 216.56,590.02 217.26,591.85 217.18,591.39 217.85,588.24 218.5,585.94 219.27,588.54 219.7,592.06 219.94,590.68 220.12,588.97 220.71,589.89 221.22,591.06 222,596.96 222.31,594.14 223.09,596.61 223.52,599.46 223.96,602.37 224.37,600.22 224.64,603.12 225.44,602.59 226.19,602.47 226.83,606.75 227.25,605.65 227.65,606.73 228.13,608.41 228.31,610.25 229.18,612.46 229.15,612.17 230.09,612.41 230.72,613.25 230.9,613.05 231.5,613.61 231.93,614.77 232.46,614.3 232.87,614.23 233.83,615.19 233.9,615.42 234.48,616.2 235.25,616.2 235.89,615.93 235.93,616.18 236.7,616.12 236.77,616.2 237.36,616.2 238.37,616.2 238.85,616.2 238.76,616.2 239.17,615.76 239.7,616.2" fill="none" stroke="#151515" stroke-width="1.3" stroke-linejoin="round" clip-path="url(#cd)"/>
<line x1="18.5" y1="494.8" x2="18.5" y2="617.3" stroke="#3c3c3c" stroke-width="1"/>
<line x1="15" y1="616.9" x2="135.6" y2="616.9" stroke="#3c3c3c" stroke-width="0.9"/>
<line x1="149.5" y1="493.2" x2="149.5" y2="617.3" stroke="#3c3c3c" stroke-width="1"/>
<line x1="124" y1="617.2" x2="149.6" y2="617.2" stroke="#3c3c3c" stroke-width="0.7"/>
<line x1="146" y1="616.7" x2="266" y2="616.7" stroke="#3c3c3c" stroke-width="0.9"/>
<line x1="13.7" y1="616.5" x2="18.5" y2="616.5" stroke="#3c3c3c" stroke-width="0.7"/>
<line x1="15.9" y1="613.46" x2="18.5" y2="613.46" stroke="#3c3c3c" stroke-width="0.7"/>
<line x1="15.9" y1="610.41" x2="18.5" y2="610.41" stroke="#3c3c3c" stroke-width="0.7"/>
<line x1="15.9" y1="607.37" x2="18.5" y2="607.37" stroke="#3c3c3c" stroke-width="0.7"/>
<line x1="15.9" y1="604.32" x2="18.5" y2="604.32" stroke="#3c3c3c" stroke-width="0.7"/>
<line x1="13.7" y1="601.27" x2="18.5" y2="601.27" stroke="#3c3c3c" stroke-width="0.7"/>
<line x1="15.9" y1="598.23" x2="18.5" y2="598.23" stroke="#3c3c3c" stroke-width="0.7"/>
<line x1="15.9" y1="595.18" x2="18.5" y2="595.18" stroke="#3c3c3c" stroke-width="0.7"/>
<line x1="15.9" y1="592.14" x2="18.5" y2="592.14" stroke="#3c3c3c" stroke-width="0.7"/>
<line x1="15.9" y1="589.1" x2="18.5" y2="589.1" stroke="#3c3c3c" stroke-width="0.7"/>
<line x1="13.7" y1="586.05" x2="18.5" y2="586.05" stroke="#3c3c3c" stroke-width="0.7"/>
<line x1="15.9" y1="583" x2="18.5" y2="583" stroke="#3c3c3c" stroke-width="0.7"/>
<line x1="15.9" y1="579.96" x2="18.5" y2="579.96" stroke="#3c3c3c" stroke-width="0.7"/>
<line x1="15.9" y1="576.91" x2="18.5" y2="576.91" stroke="#3c3c3c" stroke-width="0.7"/>
<line x1="15.9" y1="573.87" x2="18.5" y2="573.87" stroke="#3c3c3c" stroke-width="0.7"/>
<line x1="13.7" y1="570.83" x2="18.5" y2="570.83" stroke="#3c3c3c" stroke-width="0.7"/>
<line x1="15.9" y1="567.78" x2="18.5" y2="567.78" stroke="#3c3c3c" stroke-width="0.7"/>
<line x1="15.9" y1="564.74" x2="18.5" y2="564.74" stroke="#3c3c3c" stroke-width="0.7"/>
<line x1="15.9" y1="561.69" x2="18.5" y2="561.69" stroke="#3c3c3c" stroke-width="0.7"/>
<line x1="15.9" y1="558.64" x2="18.5" y2="558.64" stroke="#3c3c3c" stroke-width="0.7"/>
<line x1="13.7" y1="555.6" x2="18.5" y2="555.6" stroke="#3c3c3c" stroke-width="0.7"/>
<line x1="15.9" y1="552.55" x2="18.5" y2="552.55" stroke="#3c3c3c" stroke-width="0.7"/>
<line x1="15.9" y1="549.51" x2="18.5" y2="549.51" stroke="#3c3c3c" stroke-width="0.7"/>
<line x1="15.9" y1="546.47" x2="18.5" y2="546.47" stroke="#3c3c3c" stroke-width="0.7"/>
<line x1="15.9" y1="543.42" x2="18.5" y2="543.42" stroke="#3c3c3c" stroke-width="0.7"/>
<line x1="13.7" y1="540.38" x2="18.5" y2="540.38" stroke="#3c3c3c" stroke-width="0.7"/>
<line x1="15.9" y1="537.33" x2="18.5" y2="537.33" stroke="#3c3c3c" stroke-width="0.7"/>
<line x1="15.9" y1="534.28" x2="18.5" y2="534.28" stroke="#3c3c3c" stroke-width="0.7"/>
<line x1="15.9" y1="531.24" x2="18.5" y2="531.24" stroke="#3c3c3c" stroke-width="0.7"/>
<line x1="15.9" y1="528.2" x2="18.5" y2="528.2" stroke="#3c3c3c" stroke-width="0.7"/>
<line x1="13.7" y1="525.15" x2="18.5" y2="525.15" stroke="#3c3c3c" stroke-width="0.7"/>
<line x1="15.9" y1="522.11" x2="18.5" y2="522.11" stroke="#3c3c3c" stroke-width="0.7"/>
<line x1="15.9" y1="519.06" x2="18.5" y2="519.06" stroke="#3c3c3c" stroke-width="0.7"/>
<line x1="15.9" y1="516.01" x2="18.5" y2="516.01" stroke="#3c3c3c" stroke-width="0.7"/>
<line x1="15.9" y1="512.97" x2="18.5" y2="512.97" stroke="#3c3c3c" stroke-width="0.7"/>
<line x1="13.7" y1="509.93" x2="18.5" y2="509.93" stroke="#3c3c3c" stroke-width="0.7"/>
<line x1="15.9" y1="506.88" x2="18.5" y2="506.88" stroke="#3c3c3c" stroke-width="0.7"/>
<line x1="15.9" y1="503.84" x2="18.5" y2="503.84" stroke="#3c3c3c" stroke-width="0.7"/>
<line x1="15.9" y1="500.79" x2="18.5" y2="500.79" stroke="#3c3c3c" stroke-width="0.7"/>
<line x1="15.9" y1="497.75" x2="18.5" y2="497.75" stroke="#3c3c3c" stroke-width="0.7"/>
<text font-size="5.9" x="10.2" textLength="3.2" lengthAdjust="spacingAndGlyphs" y="618.55" fill="#2e2e2e" stroke="#2e2e2e" stroke-width="0.25">0</text>
<text font-size="5.9" x="7" textLength="6.4" lengthAdjust="spacingAndGlyphs" y="603.32" fill="#2e2e2e" stroke="#2e2e2e" stroke-width="0.25">25</text>
<text font-size="5.9" x="7" textLength="6.4" lengthAdjust="spacingAndGlyphs" y="588.1" fill="#2e2e2e" stroke="#2e2e2e" stroke-width="0.25">50</text>
<text font-size="5.9" x="7" textLength="6.4" lengthAdjust="spacingAndGlyphs" y="572.88" fill="#2e2e2e" stroke="#2e2e2e" stroke-width="0.25">75</text>
<text font-size="5.9" x="4" textLength="9.4" lengthAdjust="spacingAndGlyphs" y="557.65" fill="#2e2e2e" stroke="#2e2e2e" stroke-width="0.25">100</text>
<text font-size="5.9" x="4" textLength="9.4" lengthAdjust="spacingAndGlyphs" y="542.42" fill="#2e2e2e" stroke="#2e2e2e" stroke-width="0.25">125</text>
<text font-size="5.9" x="4" textLength="9.4" lengthAdjust="spacingAndGlyphs" y="527.2" fill="#2e2e2e" stroke="#2e2e2e" stroke-width="0.25">150</text>
<text font-size="5.9" x="4" textLength="9.4" lengthAdjust="spacingAndGlyphs" y="511.98" fill="#2e2e2e" stroke="#2e2e2e" stroke-width="0.25">175</text>
<line x1="145.3" y1="616" x2="149.5" y2="616" stroke="#3c3c3c" stroke-width="0.7"/>
<line x1="147.2" y1="611.93" x2="149.5" y2="611.93" stroke="#3c3c3c" stroke-width="0.7"/>
<line x1="147.2" y1="607.86" x2="149.5" y2="607.86" stroke="#3c3c3c" stroke-width="0.7"/>
<line x1="147.2" y1="603.79" x2="149.5" y2="603.79" stroke="#3c3c3c" stroke-width="0.7"/>
<line x1="147.2" y1="599.72" x2="149.5" y2="599.72" stroke="#3c3c3c" stroke-width="0.7"/>
<line x1="145.3" y1="595.65" x2="149.5" y2="595.65" stroke="#3c3c3c" stroke-width="0.7"/>
<line x1="147.2" y1="591.58" x2="149.5" y2="591.58" stroke="#3c3c3c" stroke-width="0.7"/>
<line x1="147.2" y1="587.51" x2="149.5" y2="587.51" stroke="#3c3c3c" stroke-width="0.7"/>
<line x1="147.2" y1="583.44" x2="149.5" y2="583.44" stroke="#3c3c3c" stroke-width="0.7"/>
<line x1="147.2" y1="579.37" x2="149.5" y2="579.37" stroke="#3c3c3c" stroke-width="0.7"/>
<line x1="145.3" y1="575.3" x2="149.5" y2="575.3" stroke="#3c3c3c" stroke-width="0.7"/>
<line x1="147.2" y1="571.23" x2="149.5" y2="571.23" stroke="#3c3c3c" stroke-width="0.7"/>
<line x1="147.2" y1="567.16" x2="149.5" y2="567.16" stroke="#3c3c3c" stroke-width="0.7"/>
<line x1="147.2" y1="563.09" x2="149.5" y2="563.09" stroke="#3c3c3c" stroke-width="0.7"/>
<line x1="147.2" y1="559.02" x2="149.5" y2="559.02" stroke="#3c3c3c" stroke-width="0.7"/>
<line x1="145.3" y1="554.95" x2="149.5" y2="554.95" stroke="#3c3c3c" stroke-width="0.7"/>
<line x1="147.2" y1="550.88" x2="149.5" y2="550.88" stroke="#3c3c3c" stroke-width="0.7"/>
<line x1="147.2" y1="546.81" x2="149.5" y2="546.81" stroke="#3c3c3c" stroke-width="0.7"/>
<line x1="147.2" y1="542.74" x2="149.5" y2="542.74" stroke="#3c3c3c" stroke-width="0.7"/>
<line x1="147.2" y1="538.67" x2="149.5" y2="538.67" stroke="#3c3c3c" stroke-width="0.7"/>
<line x1="145.3" y1="534.6" x2="149.5" y2="534.6" stroke="#3c3c3c" stroke-width="0.7"/>
<line x1="147.2" y1="530.53" x2="149.5" y2="530.53" stroke="#3c3c3c" stroke-width="0.7"/>
<line x1="147.2" y1="526.46" x2="149.5" y2="526.46" stroke="#3c3c3c" stroke-width="0.7"/>
<line x1="147.2" y1="522.39" x2="149.5" y2="522.39" stroke="#3c3c3c" stroke-width="0.7"/>
<line x1="147.2" y1="518.32" x2="149.5" y2="518.32" stroke="#3c3c3c" stroke-width="0.7"/>
<line x1="145.3" y1="514.25" x2="149.5" y2="514.25" stroke="#3c3c3c" stroke-width="0.7"/>
<line x1="147.2" y1="510.18" x2="149.5" y2="510.18" stroke="#3c3c3c" stroke-width="0.7"/>
<line x1="147.2" y1="506.11" x2="149.5" y2="506.11" stroke="#3c3c3c" stroke-width="0.7"/>
<line x1="147.2" y1="502.04" x2="149.5" y2="502.04" stroke="#3c3c3c" stroke-width="0.7"/>
<line x1="147.2" y1="497.97" x2="149.5" y2="497.97" stroke="#3c3c3c" stroke-width="0.7"/>
<text font-size="5.76" x="142.3" textLength="3" lengthAdjust="spacingAndGlyphs" y="618.1" fill="#2e2e2e" stroke="#2e2e2e" stroke-width="0.25">0</text>
<text font-size="5.76" x="137.1" textLength="8.2" lengthAdjust="spacingAndGlyphs" y="597.75" fill="#2e2e2e" stroke="#2e2e2e" stroke-width="0.25">100</text>
<text font-size="5.76" x="137.1" textLength="8.2" lengthAdjust="spacingAndGlyphs" y="577.4" fill="#2e2e2e" stroke="#2e2e2e" stroke-width="0.25">200</text>
<text font-size="5.76" x="137.1" textLength="8.2" lengthAdjust="spacingAndGlyphs" y="557.05" fill="#2e2e2e" stroke="#2e2e2e" stroke-width="0.25">300</text>
<text font-size="5.76" x="137.1" textLength="8.2" lengthAdjust="spacingAndGlyphs" y="536.7" fill="#2e2e2e" stroke="#2e2e2e" stroke-width="0.25">400</text>
<text font-size="5.76" x="137.1" textLength="8.2" lengthAdjust="spacingAndGlyphs" y="516.35" fill="#2e2e2e" stroke="#2e2e2e" stroke-width="0.25">500</text>
<line x1="19.6" y1="617" x2="19.6" y2="620.4" stroke="#3c3c3c" stroke-width="0.8"/>
<line x1="32.3" y1="617" x2="32.3" y2="620.4" stroke="#3c3c3c" stroke-width="0.8"/>
<line x1="44.5" y1="617" x2="44.5" y2="620.4" stroke="#3c3c3c" stroke-width="0.8"/>
<line x1="75" y1="617" x2="75" y2="620.4" stroke="#3c3c3c" stroke-width="0.8"/>
<line x1="110.3" y1="617" x2="110.3" y2="620.4" stroke="#3c3c3c" stroke-width="0.8"/>
<line x1="53.68" y1="617" x2="53.68" y2="619" stroke="#3c3c3c" stroke-width="0.6"/>
<line x1="59.05" y1="617" x2="59.05" y2="619" stroke="#3c3c3c" stroke-width="0.6"/>
<line x1="62.86" y1="617" x2="62.86" y2="619" stroke="#3c3c3c" stroke-width="0.6"/>
<line x1="65.82" y1="617" x2="65.82" y2="619" stroke="#3c3c3c" stroke-width="0.6"/>
<line x1="68.23" y1="617" x2="68.23" y2="619" stroke="#3c3c3c" stroke-width="0.6"/>
<line x1="70.28" y1="617" x2="70.28" y2="619" stroke="#3c3c3c" stroke-width="0.6"/>
<line x1="72.04" y1="617" x2="72.04" y2="619" stroke="#3c3c3c" stroke-width="0.6"/>
<line x1="73.6" y1="617" x2="73.6" y2="619" stroke="#3c3c3c" stroke-width="0.6"/>
<line x1="85.63" y1="617" x2="85.63" y2="619" stroke="#3c3c3c" stroke-width="0.6"/>
<line x1="91.84" y1="617" x2="91.84" y2="619" stroke="#3c3c3c" stroke-width="0.6"/>
<line x1="96.25" y1="617" x2="96.25" y2="619" stroke="#3c3c3c" stroke-width="0.6"/>
<line x1="99.67" y1="617" x2="99.67" y2="619" stroke="#3c3c3c" stroke-width="0.6"/>
<line x1="102.47" y1="617" x2="102.47" y2="619" stroke="#3c3c3c" stroke-width="0.6"/>
<line x1="104.83" y1="617" x2="104.83" y2="619" stroke="#3c3c3c" stroke-width="0.6"/>
<line x1="106.88" y1="617" x2="106.88" y2="619" stroke="#3c3c3c" stroke-width="0.6"/>
<line x1="108.68" y1="617" x2="108.68" y2="619" stroke="#3c3c3c" stroke-width="0.6"/>
<line x1="120.93" y1="617" x2="120.93" y2="619" stroke="#3c3c3c" stroke-width="0.6"/>
<line x1="127.14" y1="617" x2="127.14" y2="619" stroke="#3c3c3c" stroke-width="0.6"/>
<line x1="131.55" y1="617" x2="131.55" y2="619" stroke="#3c3c3c" stroke-width="0.6"/>
<line x1="150.6" y1="617" x2="150.6" y2="620.4" stroke="#3c3c3c" stroke-width="0.8"/>
<line x1="162.3" y1="617" x2="162.3" y2="620.4" stroke="#3c3c3c" stroke-width="0.8"/>
<line x1="173.6" y1="617" x2="173.6" y2="620.4" stroke="#3c3c3c" stroke-width="0.8"/>
<line x1="202.3" y1="617" x2="202.3" y2="620.4" stroke="#3c3c3c" stroke-width="0.8"/>
<line x1="234" y1="617" x2="234" y2="620.4" stroke="#3c3c3c" stroke-width="0.8"/>
<line x1="182.24" y1="617" x2="182.24" y2="619" stroke="#3c3c3c" stroke-width="0.6"/>
<line x1="187.29" y1="617" x2="187.29" y2="619" stroke="#3c3c3c" stroke-width="0.6"/>
<line x1="190.88" y1="617" x2="190.88" y2="619" stroke="#3c3c3c" stroke-width="0.6"/>
<line x1="193.66" y1="617" x2="193.66" y2="619" stroke="#3c3c3c" stroke-width="0.6"/>
<line x1="195.93" y1="617" x2="195.93" y2="619" stroke="#3c3c3c" stroke-width="0.6"/>
<line x1="197.85" y1="617" x2="197.85" y2="619" stroke="#3c3c3c" stroke-width="0.6"/>
<line x1="199.52" y1="617" x2="199.52" y2="619" stroke="#3c3c3c" stroke-width="0.6"/>
<line x1="200.99" y1="617" x2="200.99" y2="619" stroke="#3c3c3c" stroke-width="0.6"/>
<line x1="211.84" y1="617" x2="211.84" y2="619" stroke="#3c3c3c" stroke-width="0.6"/>
<line x1="217.42" y1="617" x2="217.42" y2="619" stroke="#3c3c3c" stroke-width="0.6"/>
<line x1="221.39" y1="617" x2="221.39" y2="619" stroke="#3c3c3c" stroke-width="0.6"/>
<line x1="224.46" y1="617" x2="224.46" y2="619" stroke="#3c3c3c" stroke-width="0.6"/>
<line x1="226.97" y1="617" x2="226.97" y2="619" stroke="#3c3c3c" stroke-width="0.6"/>
<line x1="229.09" y1="617" x2="229.09" y2="619" stroke="#3c3c3c" stroke-width="0.6"/>
<line x1="230.93" y1="617" x2="230.93" y2="619" stroke="#3c3c3c" stroke-width="0.6"/>
<line x1="232.55" y1="617" x2="232.55" y2="619" stroke="#3c3c3c" stroke-width="0.6"/>
<line x1="243.54" y1="617" x2="243.54" y2="619" stroke="#3c3c3c" stroke-width="0.6"/>
<line x1="249.12" y1="617" x2="249.12" y2="619" stroke="#3c3c3c" stroke-width="0.6"/>
<line x1="253.09" y1="617" x2="253.09" y2="619" stroke="#3c3c3c" stroke-width="0.6"/>
<line x1="256.16" y1="617" x2="256.16" y2="619" stroke="#3c3c3c" stroke-width="0.6"/>
<line x1="258.67" y1="617" x2="258.67" y2="619" stroke="#3c3c3c" stroke-width="0.6"/>
<line x1="260.79" y1="617" x2="260.79" y2="619" stroke="#3c3c3c" stroke-width="0.6"/>
<line x1="262.63" y1="617" x2="262.63" y2="619" stroke="#3c3c3c" stroke-width="0.6"/>
<line x1="264.25" y1="617" x2="264.25" y2="619" stroke="#3c3c3c" stroke-width="0.6"/>
<text font-size="5.9" x="17.4" textLength="4.4" lengthAdjust="spacingAndGlyphs" y="626.75" fill="#2e2e2e" stroke="#2e2e2e" stroke-width="0.25">-1</text>
<text font-size="5.9" x="30.75" textLength="3.1" lengthAdjust="spacingAndGlyphs" y="626.75" fill="#2e2e2e" stroke="#2e2e2e" stroke-width="0.25">0</text>
<text font-size="5.9" x="43.1" textLength="2.8" lengthAdjust="spacingAndGlyphs" y="626.75" fill="#2e2e2e" stroke="#2e2e2e" stroke-width="0.25">1</text>
<text font-size="5.9" x="68.5" textLength="13" lengthAdjust="spacingAndGlyphs" y="626.75" fill="#2e2e2e" stroke="#2e2e2e" stroke-width="0.25">1.0e1</text>
<text font-size="5.9" x="103.8" textLength="13" lengthAdjust="spacingAndGlyphs" y="626.75" fill="#2e2e2e" stroke="#2e2e2e" stroke-width="0.25">1.0e2</text>
<text font-size="5.9" x="148.2" textLength="4.4" lengthAdjust="spacingAndGlyphs" y="626.75" fill="#2e2e2e" stroke="#2e2e2e" stroke-width="0.25">-1</text>
<text font-size="5.9" x="160.75" textLength="3.1" lengthAdjust="spacingAndGlyphs" y="626.75" fill="#2e2e2e" stroke="#2e2e2e" stroke-width="0.25">0</text>
<text font-size="5.9" x="172.2" textLength="2.8" lengthAdjust="spacingAndGlyphs" y="626.75" fill="#2e2e2e" stroke="#2e2e2e" stroke-width="0.25">1</text>
<text font-size="5.9" x="195.8" textLength="13" lengthAdjust="spacingAndGlyphs" y="626.75" fill="#2e2e2e" stroke="#2e2e2e" stroke-width="0.25">1.0e1</text>
<text font-size="5.9" x="227.5" textLength="13" lengthAdjust="spacingAndGlyphs" y="626.75" fill="#2e2e2e" stroke="#2e2e2e" stroke-width="0.25">1.0e2</text>
<text font-size="5.9" x="258.7" textLength="7.8" lengthAdjust="spacingAndGlyphs" y="626.75" fill="#2e2e2e" stroke="#2e2e2e" stroke-width="0.25">1.0</text>
<defs><marker id="ah" viewBox="0 0 10 10" refX="8.5" refY="5" markerWidth="6" markerHeight="5.6" orient="auto-start-reverse" markerUnits="userSpaceOnUse"><path d="M0,0.6 L10,5 L0,9.4 z" fill="#111"/></marker></defs>
<text font-size="10.97" font-weight="bold" x="44.1" textLength="67.6" lengthAdjust="spacingAndGlyphs" y="503.8" stroke="#000" stroke-width="0.15">Macrophage</text>
<text font-size="7.34" x="22.1" textLength="43" lengthAdjust="spacingAndGlyphs" y="525.6" stroke="#000" stroke-width="0.2">No chemokine</text>
<line x1="39.5" y1="528.5" x2="55.6" y2="547.5" stroke="#111" stroke-width="1" marker-end="url(#ah)"/>
<text font-size="9.52" x="23.3" textLength="16.9" lengthAdjust="spacingAndGlyphs" y="568.7" stroke="#000" stroke-width="0.15">BLP</text>
<line x1="36" y1="569.3" x2="62.4" y2="575.6" stroke="#111" stroke-width="1" marker-end="url(#ah)"/>
<text font-size="9.67" x="100.1" textLength="17.8" lengthAdjust="spacingAndGlyphs" y="547.6" stroke="#000" stroke-width="0.15">PBS</text>
<line x1="102.6" y1="550.2" x2="83.5" y2="564.3" stroke="#111" stroke-width="1" marker-end="url(#ah)"/>
<text font-size="10.83" font-weight="bold" x="167.6" textLength="71.7" lengthAdjust="spacingAndGlyphs" y="503.2" stroke="#000" stroke-width="0.15">Dendritic cell</text>
<text font-size="9.08" x="180.8" textLength="59.3" lengthAdjust="spacingAndGlyphs" y="542.7" stroke="#000" stroke-width="0.15">No chemokine</text>
<line x1="197.6" y1="546.2" x2="175.9" y2="563.2" stroke="#111" stroke-width="1" marker-end="url(#ah)"/>
<text font-size="9.38" x="226.1" textLength="17.4" lengthAdjust="spacingAndGlyphs" y="558.7" stroke="#000" stroke-width="0.15">BLP</text>
<line x1="226.2" y1="561.2" x2="191.5" y2="591.3" stroke="#111" stroke-width="1" marker-end="url(#ah)"/>
<text font-size="9.23" x="234.6" textLength="18.4" lengthAdjust="spacingAndGlyphs" y="583.6" stroke="#000" stroke-width="0.15">PBS</text>
<line x1="237.4" y1="587.4" x2="226.8" y2="596.2" stroke="#111" stroke-width="1" marker-end="url(#ah)"/>
<text font-size="13.45" font-weight="bold" x="271.6" textLength="6.5" lengthAdjust="spacingAndGlyphs" y="490.4" stroke="#000" stroke-width="0.25">ii</text>
<rect x="308.6" y="610.9" width="27.1" height="4.6" fill="#333" stroke="#000" stroke-width="1"/>
<line x1="322.15" y1="610.4" x2="322.15" y2="609.6" stroke="#111" stroke-width="1.1"/>
<line x1="315.25" y1="609.6" x2="329.05" y2="609.6" stroke="#111" stroke-width="1.1"/>
<rect x="349.9" y="531.1" width="27.9" height="84.4" fill="#333" stroke="#000" stroke-width="1"/>
<line x1="363.85" y1="530.6" x2="363.85" y2="527.1" stroke="#111" stroke-width="1.1"/>
<line x1="356.95" y1="527.1" x2="370.75" y2="527.1" stroke="#111" stroke-width="1.1"/>
<rect x="391.8" y="520.9" width="28.1" height="94.6" fill="#333" stroke="#000" stroke-width="1"/>
<line x1="405.85" y1="520.4" x2="405.85" y2="514.2" stroke="#111" stroke-width="1.1"/>
<line x1="398.95" y1="514.2" x2="412.75" y2="514.2" stroke="#111" stroke-width="1.1"/>
<line x1="299.7" y1="510" x2="299.7" y2="616.2" stroke="#000" stroke-width="1.2"/>
<line x1="299.1" y1="615.5" x2="425.8" y2="615.5" stroke="#000" stroke-width="1.3"/>
<line x1="297.4" y1="615.5" x2="299.7" y2="615.5" stroke="#000" stroke-width="1.3"/>
<text font-size="8.89" font-weight="bold" x="289.9" textLength="4.4" lengthAdjust="spacingAndGlyphs" y="620.15" stroke="#000" stroke-width="0.3">0</text>
<line x1="297.4" y1="589.33" x2="299.7" y2="589.33" stroke="#000" stroke-width="1.3"/>
<text font-size="8.89" font-weight="bold" x="285.1" textLength="9.2" lengthAdjust="spacingAndGlyphs" y="593.98" stroke="#000" stroke-width="0.3">50</text>
<line x1="297.4" y1="563.15" x2="299.7" y2="563.15" stroke="#000" stroke-width="1.3"/>
<text font-size="8.89" font-weight="bold" x="282.1" textLength="14.1" lengthAdjust="spacingAndGlyphs" y="567.8" stroke="#000" stroke-width="0.3">100</text>
<line x1="297.4" y1="536.98" x2="299.7" y2="536.98" stroke="#000" stroke-width="1.3"/>
<text font-size="8.89" font-weight="bold" x="282.1" textLength="14.1" lengthAdjust="spacingAndGlyphs" y="541.62" stroke="#000" stroke-width="0.3">150</text>
<line x1="297.4" y1="510.8" x2="299.7" y2="510.8" stroke="#000" stroke-width="1.3"/>
<text font-size="8.89" font-weight="bold" x="282.1" textLength="14.1" lengthAdjust="spacingAndGlyphs" y="515.45" stroke="#000" stroke-width="0.3">200</text>
<line x1="322" y1="615.5" x2="322" y2="618" stroke="#000" stroke-width="1.2"/>
<line x1="363.6" y1="615.5" x2="363.6" y2="618" stroke="#000" stroke-width="1.2"/>
<line x1="405.7" y1="615.5" x2="405.7" y2="618" stroke="#000" stroke-width="1.2"/>
<text font-size="8.65" font-weight="bold" x="311.1" textLength="19" lengthAdjust="spacingAndGlyphs" y="625.8" stroke="#000" stroke-width="0.3">PBS</text>
<text font-size="8.65" font-weight="bold" x="347.6" textLength="28.7" lengthAdjust="spacingAndGlyphs" y="625.8" stroke="#000" stroke-width="0.3">CCL19</text>
<text font-size="8.65" font-weight="bold" x="385.2" textLength="57.5" lengthAdjust="spacingAndGlyphs" y="625.8" stroke="#000" stroke-width="0.3">BLP + CCL19</text>
<text transform="translate(276.2 560.1) rotate(-90)" x="0" y="2.85" font-size="8.34" text-anchor="middle" textLength="17.3" lengthAdjust="spacingAndGlyphs" font-weight="bold" stroke="#000" stroke-width="0.3">MFI</text>
<text font-size="10.97" font-weight="bold" x="338.2" textLength="36.1" lengthAdjust="spacingAndGlyphs" y="496.3" stroke="#000" stroke-width="0.15">T cells</text>
</svg></body></html>
